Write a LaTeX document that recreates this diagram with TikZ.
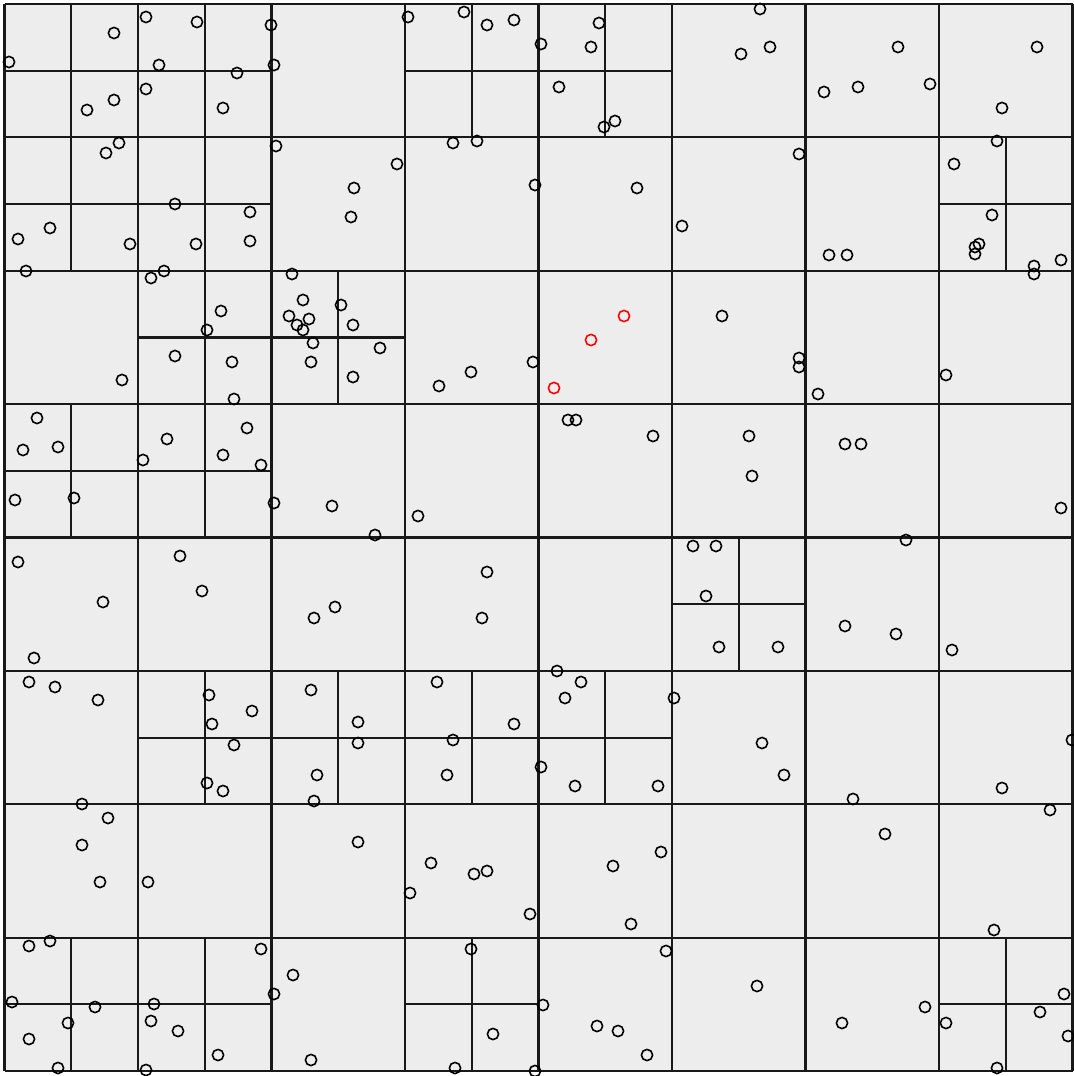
\documentclass[tikz,border=0pt]{standalone}
\begin{document}
\begin{tikzpicture}[x=0.5pt,y=-0.5pt,
  gridline/.style={line width=1.05pt,black!90},
  pt/.style={line width=0.8pt,black},
  redpt/.style={line width=0.8pt,red}]
\useasboundingbox (0,0) rectangle (1074,1076);
\fill[white] (0,0) rectangle (1074,1076);
\fill[black!7] (4.5,4) rectangle (1072.5,1071);
% coarse grid
\foreach \i in {0,...,8}{
  \draw[gridline] ({4.5+133.5*\i},4) -- ({4.5+133.5*\i},1071);
  \draw[gridline] (4.5,{4+133.375*\i}) -- (1072.5,{4+133.375*\i});
}
% subdivided cells
\foreach \i/\j in {0/0,1/0,3/0,4/0,0/1,1/1,7/1,1/2,2/2,0/3,1/3,5/4,1/5,2/5,3/5,4/5,0/7,1/7,3/7,7/7}{
  \draw[gridline] ({4.5+133.5*\i+66.75},{4+133.375*\j}) -- ({4.5+133.5*\i+66.75},{4+133.375*(\j+1)});
  \draw[gridline] ({4.5+133.5*\i},{4+133.375*\j+66.7}) -- ({4.5+133.5*(\i+1)},{4+133.375*\j+66.7});
}
% points
\foreach \x/\y in {
9/62,114/33,146/17,197/22,271/25,159/65,237/73,274/65,146/89,114/100,87/110,223/108,
119/143,106/153,276/146,354/188,351/217,175/204,250/212,250/241,50/228,18/239,130/244,196/244,
26/271,164/271,151/278,292/274,
408/17,464/12,487/25,514/20,541/44,599/23,591/47,559/87,604/127,615/121,453/143,477/141,397/164,535/185,637/188,682/226,
760/9,741/54,770/47,898/47,824/92,858/87,930/84,1037/47,1002/108,799/154,997/141,954/164,992/215,829/255,847/255,
975/247,979/244,975/254,1034/266,1034/274,1061/260,
303/300,289/316,309/319,297/325,303/330,313/343,311/362,341/305,353/325,353/377,221/311,207/330,175/356,232/362,234/399,122/380,
37/418,23/450,58/447,167/439,143/460,247/428,223/455,261/465,15/500,74/498,274/503,332/506,
380/348,471/372,439/386,533/362,568/420,576/420,653/436,418/516,375/535,
722/316,799/358,799/367,818/394,946/375,749/436,752/476,845/444,861/444,1061/508,906/540,
18/562,103/602,34/658,180/556,202/591,314/618,335/607,29/682,55/687,98/700,209/695,212/724,252/711,234/745,207/783,223/791,311/690,358/722,358/743,317/775,314/801,82/804,
487/572,482/618,693/546,716/546,706/596,719/647,557/671,581/682,565/698,437/682,514/724,453/740,447/775,541/767,575/786,658/786,674/698,
778/647,845/626,896/634,952/650,762/743,784/775,1072/740,1002/788,853/799,1050/810,
108/818,82/845,100/882,148/882,358/842,431/863,474/874,487/871,410/893,530/914,613/866,661/852,631/924,885/834,994/930,
29/946,50/941,12/1002,95/1007,68/1023,29/1039,58/1068,154/1004,151/1021,178/1031,146/1070,218/1055,261/949,293/975,274/994,311/1060,
471/949,666/951,543/1005,597/1026,618/1031,647/1055,493/1034,455/1068,535/1071,
757/986,842/1023,925/1007,946/1023,1064/994,1040/1012,1068/1036,997/1068}
  \draw[pt] (\x,\y) circle[radius=5.6];
\foreach \x/\y in {624/316,591/340,554/388}
  \draw[redpt] (\x,\y) circle[radius=5.6];
\end{tikzpicture}
\end{document}
